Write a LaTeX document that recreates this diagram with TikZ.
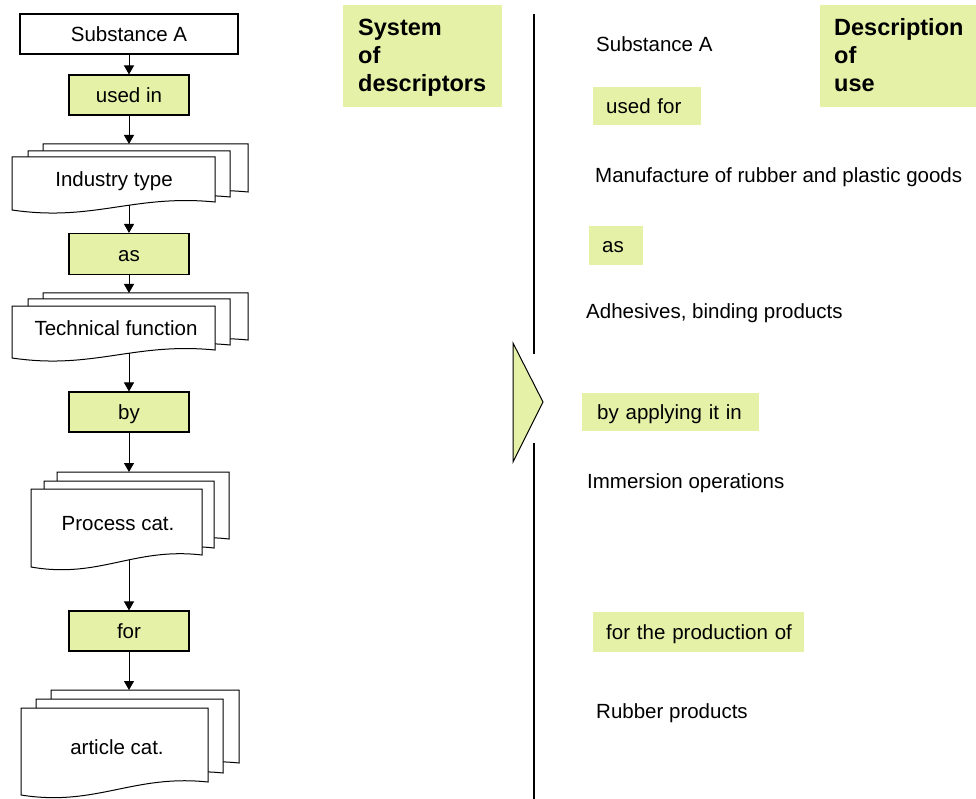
\documentclass[tikz,border=0pt]{standalone}
\usepackage{fontspec}
\setmainfont{Liberation Sans}
\usetikzlibrary{arrows.meta}
\definecolor{ylw}{RGB}{230,241,168}
% l, t, r, bottom-left, bottom-right, name of point on the wave
\newcommand\docpath[6]{(#1,#2) -- (#3,#2) -- (#3,#5) .. controls ({#1+0.6*(#3-#1)},{#5-8}) and ({#1+0.4*(#3-#1)},{#4+12}) .. (#1,#4) coordinate[pos=0.42] (#6) -- cycle}
\tikzset{
  txt/.style={font=\fontsize{20.5}{24}\selectfont, inner sep=0pt},
  hdr/.style={font=\fontsize{23.5}{28}\selectfont\bfseries, inner sep=0pt, anchor=base west},
  plainbox/.style={txt, draw=black, line width=1.1pt, fill=white, minimum width=218pt, minimum height=40pt, text height=16.4pt, text depth=2pt},
  ylwbox/.style={txt, draw=black, line width=1.1pt, fill=ylw, minimum width=120pt, minimum height=40pt, text height=16.4pt, text depth=2pt},
  lab/.style={txt, fill=ylw, anchor=north west, align=left, text height=16.4pt, text depth=2pt},
  hdrbox/.style={fill=ylw, anchor=north west, inner sep=0pt},
  sheet/.style={draw=black, line width=1pt, fill=white},
  conn/.style={line width=0.9pt, -{Triangle[length=9pt,width=10pt]}},
  sep/.style={line width=1.1pt},
}
\begin{document}
\begin{tikzpicture}[x=1pt,y=-1pt]
\useasboundingbox (0,0) rectangle (976,799);

% ---------- left column ----------
\node[plainbox] (sa) at (129,34) {Substance A};
\node[ylwbox] (usedin) at (129,95) {used in};

\draw[sheet] \docpath{43}{144}{248}{200}{192}{itw3};
\draw[sheet] \docpath{28}{151}{230}{205}{197}{itw2};
\draw[sheet] \docpath{12}{157}{215}{210}{202}{itW};
\node[txt, anchor=base] (it) at (114,187) {Industry type};
\coordinate (itIn) at (129,144);

\node[ylwbox, minimum height=41pt] (as) at (129,254) {as};

\draw[sheet] \docpath{43}{293}{248}{348}{340}{tfw3};
\draw[sheet] \docpath{28}{299}{230}{353}{345}{tfw2};
\draw[sheet] \docpath{12}{306}{215}{358}{350}{tfW};
\node[txt, anchor=base] (tf) at (116,335) {Technical function};
\coordinate (tfIn) at (129,293);

\node[ylwbox] (by) at (129,412) {by};

\draw[sheet] \docpath{57}{472}{229}{551}{539}{pcw3};
\draw[sheet] \docpath{44}{481}{214}{560}{548}{pcw2};
\draw[sheet] \docpath{31}{489}{202}{567}{555}{pcW};
\node[txt, anchor=base] (pc) at (118,530) {Process cat.};
\coordinate (pcIn) at (129,472);

\node[ylwbox] (for) at (129,631) {for};

\draw[sheet] \docpath{51}{690}{239}{776}{763}{acw3};
\draw[sheet] \docpath{36}{699}{223}{786}{773}{acw2};
\draw[sheet] \docpath{21}{708}{208}{795}{782}{acW};
\node[txt, anchor=base] (ac) at (117,754) {article cat.};
\coordinate (acIn) at (129,690);

\draw[conn] (sa) -- (usedin);
\draw[conn] (usedin) -- (itIn);
\draw[conn] (itW -| as.north) -- (as);
\draw[conn] (as) -- (tfIn);
\draw[conn] (tfW -| by.north) -- (by);
\draw[conn] (by) -- (pcIn);
\draw[conn] (pcW -| for.north) -- (for);
\draw[conn] (for) -- (acIn);

% ---------- headers ----------
\node[hdrbox, minimum width=159pt, minimum height=102pt] (sysbox) at (343,5) {};
\node[hdr] (sys1) at (358,36) {System};
\node[hdr] (sys2) at (358,64) {of};
\node[hdr] (sys3) at (358,92) {descriptors};

\node[hdrbox, minimum width=156pt, minimum height=102pt] (descbox) at (820,5) {};
\node[hdr] (desc1) at (834,36) {Description};
\node[hdr] (desc2) at (834,64) {of};
\node[hdr] (desc3) at (834,92) {use};

% ---------- divider and pointer ----------
\coordinate (d1) at (534,14);
\coordinate (d2) at (534,354);
\coordinate (d3) at (534,443);
\coordinate (d4) at (534,799);
\draw[sep] (d1) -- (d2);
\draw[sep] (d3) -- (d4);
\draw[fill=ylw, draw=black, line width=1pt, line join=miter] (513,343) -- (543,402) -- (513,462) -- cycle;

% ---------- right column ----------
\node[txt, anchor=base west] (r1) at (596,52) {Substance A};
\node[lab, minimum height=38pt, text width=108pt] (r2) at (593,87) {\hspace*{13pt}used for};
\node[txt, anchor=base west] (r3) at (595,183) {Manufacture of rubber and plastic goods};
\node[lab, minimum height=39pt, text width=54pt] (r4) at (589,226) {\hspace*{13pt}as};
\node[txt, anchor=base west] (r5) at (586,318) {Adhesives, binding products};
\node[lab, minimum height=38pt, text width=177pt] (r6) at (582,393) {\hspace*{15pt}by applying it in};
\node[txt, anchor=base west] (r7) at (587,488) {Immersion operations};
\node[lab, minimum height=40pt, text width=211pt] (r8) at (593,612) {\hspace*{13pt}for the production of};
\node[txt, anchor=base west] (r9) at (596,718) {Rubber products};
\end{tikzpicture}
\end{document}
